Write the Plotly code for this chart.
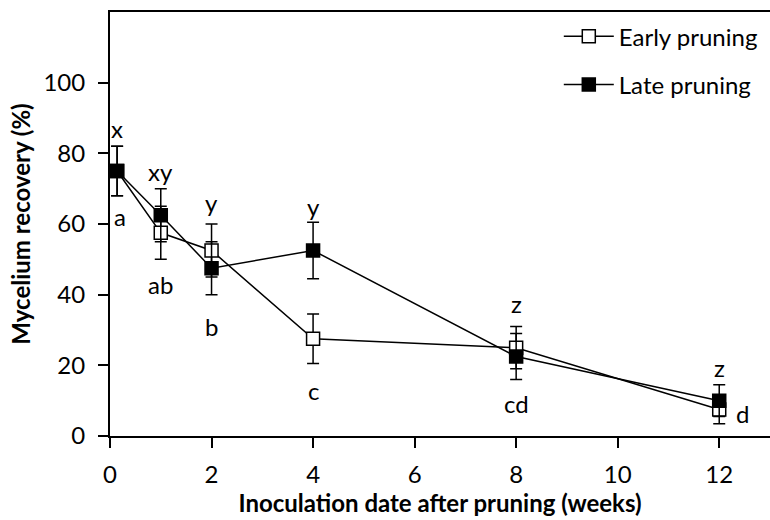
import plotly.graph_objects as go

weeks = [0.14, 1, 2, 4, 8, 12]
early = [75, 57.5, 52.5, 27.5, 25, 7.5]
early_err = [7, 7.5, 7.5, 7, 6, 4]
late = [75, 62.5, 47.5, 52.5, 22.5, 10]
late_err = [7, 7.5, 7.5, 8, 6.5, 4.5]

late_letters = ["x", "xy", "y", "y", "z", "z"]
late_letter_y = [87, 75, 66, 65, 37.4, 19.3]
early_letters = ["a", "ab", "b", "c", "cd", "d"]
early_letter_x = [0.2, 1, 2, 4, 8, 12.45]
early_letter_y = [62, 43, 31, 13, 9.3, 6.5]

FONT = "Lato"
FS = 24

fig = go.Figure()
fig.add_trace(go.Scatter(
    x=weeks, y=early, name="Early pruning", mode="lines+markers",
    line=dict(color="black", width=1.5),
    marker=dict(symbol="square", size=13, color="white", line=dict(color="black", width=1.5)),
    error_y=dict(type="data", array=early_err, color="black", thickness=1.5, width=6),
    legendgroup="e",
))
fig.add_trace(go.Scatter(
    x=weeks, y=late, name="Late pruning", mode="lines+markers",
    line=dict(color="black", width=1.5),
    marker=dict(symbol="square", size=13, color="black", line=dict(color="black", width=1.5)),
    error_y=dict(type="data", array=late_err, color="black", thickness=1.5, width=6),
    legendgroup="l",
))

for xv, yv, t in zip(weeks, late_letter_y, late_letters):
    fig.add_annotation(x=xv, y=yv, text=t, showarrow=False, xanchor="center", yanchor="middle",
                       font=dict(family=FONT, size=FS, color="black"))
for xv, yv, t in zip(early_letter_x, early_letter_y, early_letters):
    fig.add_annotation(x=xv, y=yv, text=t, showarrow=False, xanchor="center", yanchor="middle",
                       font=dict(family=FONT, size=FS, color="black"))

fig.update_layout(
    width=770, height=520,
    margin=dict(l=110, r=0, t=12, b=84),
    plot_bgcolor="white", paper_bgcolor="white",
    font=dict(family=FONT, size=FS, color="black"),
    showlegend=True,
    legend=dict(x=0.68, y=0.995, xanchor="left", yanchor="top", bgcolor="rgba(0,0,0,0)",
                font=dict(family=FONT, size=FS, color="black"),
                itemwidth=50, tracegroupgap=14),
    xaxis=dict(range=[0, 13], tickvals=[0, 2, 4, 6, 8, 10, 12], showline=True, linecolor="black",
               linewidth=2, mirror=True, ticks="outside", ticklen=10, tickwidth=1.5, tickcolor="black",
               showgrid=False, zeroline=False, ticklabelstandoff=6,
               title=dict(text="<b>Inoculation date after pruning (weeks)</b>", standoff=6,
                          font=dict(family=FONT, size=24))),
    yaxis=dict(range=[0, 120], tickvals=[0, 20, 40, 60, 80, 100], showline=True, linecolor="black",
               linewidth=2, ticks="outside", ticklen=10, tickwidth=1.5, tickcolor="black",
               showgrid=False, zeroline=False, ticklabelstandoff=8,
               title=dict(text="<b>Mycelium recovery (%)</b>", standoff=6,
                          font=dict(family=FONT, size=24))),
)

fig.write_html("out.html")
